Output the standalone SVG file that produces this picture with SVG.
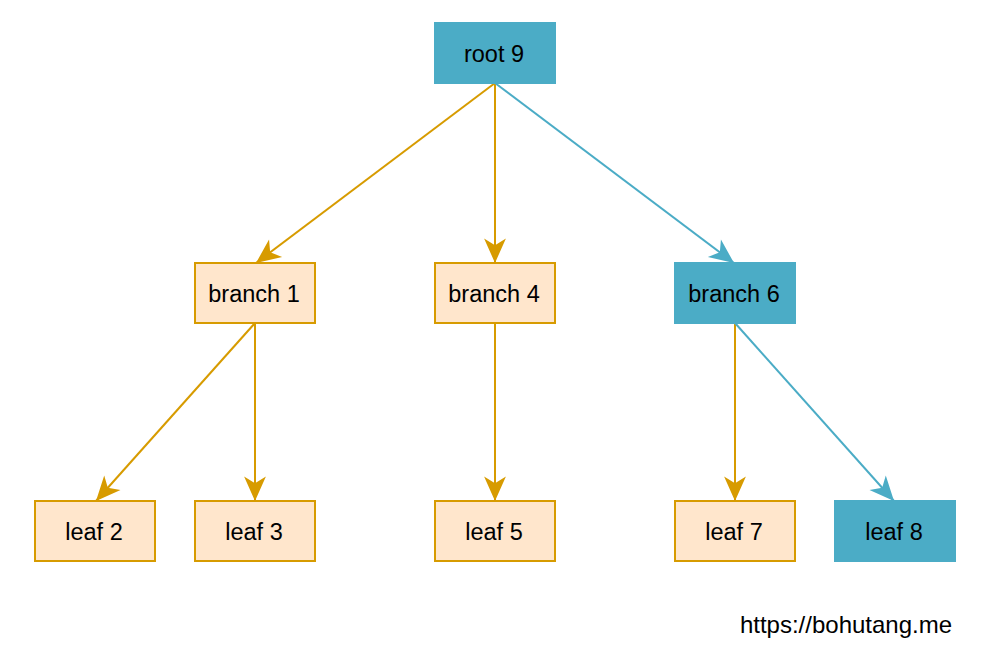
<svg xmlns="http://www.w3.org/2000/svg" width="984" height="646" viewBox="0 0 984 646">
<style>
.o rect{fill:#FFE6CC;stroke:#D79B00;stroke-width:2}
.b rect{fill:#4BACC6;stroke:#4BACC6;stroke-width:2}
text{font-family:"Liberation Sans",Arial,sans-serif;font-size:23.5px;fill:#000;text-anchor:middle;dominant-baseline:central}
.eo{stroke:#D79B00;stroke-width:2;fill:none;marker-end:url(#ao)}
.eb{stroke:#4BACC6;stroke-width:2;fill:none;marker-end:url(#ab)}
</style>
<defs>
<marker id="ao" markerUnits="userSpaceOnUse" markerWidth="30" markerHeight="30" refX="0" refY="0" viewBox="-20 -10 22 20" orient="auto" overflow="visible">
<path d="M0,0 L-18,-8 L-13,0 L-18,8 Z" fill="#D79B00"/>
</marker>
<marker id="ab" markerUnits="userSpaceOnUse" markerWidth="30" markerHeight="30" refX="0" refY="0" viewBox="-20 -10 22 20" orient="auto" overflow="visible">
<path d="M0,0 L-18,-8 L-13,0 L-18,8 Z" fill="#4BACC6"/>
</marker>
</defs>
<rect width="984" height="646" fill="#fff"/>
<g id="connectors">
<line class="eo" x1="495" y1="83" x2="256" y2="263"/>
<line class="eo" x1="495" y1="83" x2="495" y2="263"/>
<line class="eb" x1="495" y1="83" x2="734" y2="263"/>
<line class="eo" x1="255" y1="323" x2="96" y2="501"/>
<line class="eo" x1="255" y1="323" x2="255" y2="501"/>
<line class="eo" x1="495" y1="323" x2="495" y2="501"/>
<line class="eo" x1="735" y1="323" x2="735" y2="501"/>
<line class="eb" x1="735" y1="323" x2="894" y2="501"/>
</g>
<g id="root9" class="b"><rect x="435" y="23" width="120" height="60"/><text x="494" y="54">root 9</text></g>
<g id="branch1" class="o"><rect x="195" y="263" width="120" height="60"/><text x="254" y="294">branch 1</text></g>
<g id="branch4" class="o"><rect x="435" y="263" width="120" height="60"/><text x="494" y="294">branch 4</text></g>
<g id="branch6" class="b"><rect x="675" y="263" width="120" height="60"/><text x="734" y="294">branch 6</text></g>
<g id="leaf2" class="o"><rect x="35" y="501" width="120" height="60"/><text x="94" y="532">leaf 2</text></g>
<g id="leaf3" class="o"><rect x="195" y="501" width="120" height="60"/><text x="254" y="532">leaf 3</text></g>
<g id="leaf5" class="o"><rect x="435" y="501" width="120" height="60"/><text x="494" y="532">leaf 5</text></g>
<g id="leaf7" class="o"><rect x="675" y="501" width="120" height="60"/><text x="734" y="532">leaf 7</text></g>
<g id="leaf8" class="b"><rect x="835" y="501" width="120" height="60"/><text x="894" y="532">leaf 8</text></g>
<text x="846" y="624" style="font-size:24px">https://bohutang.me</text>
</svg>
